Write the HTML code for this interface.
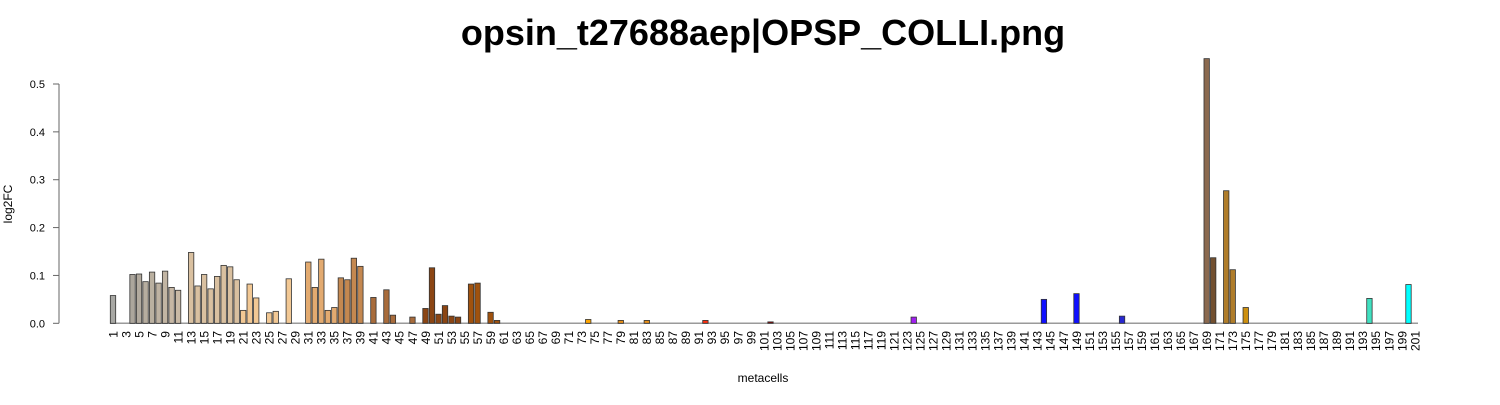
<!DOCTYPE html>
<html><head><meta charset="utf-8"><style>
body{margin:0;background:#fff;}
svg text{font-family:"Liberation Sans",sans-serif;}
</style></head><body>
<svg id="chart" width="1500" height="400" xmlns="http://www.w3.org/2000/svg">
<text x="763" y="45" font-size="36" font-weight="bold" text-anchor="middle">opsin_t27688aep|OPSP_COLLI.png</text>
<text x="763" y="382" font-size="12" text-anchor="middle">metacells</text>
<text transform="translate(12,204) rotate(-90)" font-size="12" text-anchor="middle">log2FC</text>
<g id="yaxis"></g>
<g id="bars"></g>
<g id="xlabels"></g>
</svg>
<script>
const categories = Array.from({length:201},(_,i)=>String(i+1));
const nonZeroIdx = [1,4,5,6,7,8,9,10,11,13,14,15,16,17,18,19,20,21,22,23,25,26,28,31,32,33,34,35,36,37,38,39,41,43,44,47,49,50,51,52,53,54,56,57,59,60,74,79,83,92,102,124,144,149,156,169,170,172,173,175,194,200];
const nonZeroVal = [0.058,0.102,0.103,0.087,0.107,0.084,0.109,0.075,0.069,0.148,0.078,0.102,0.072,0.098,0.121,0.118,0.091,0.027,0.082,0.053,0.022,0.025,0.093,0.128,0.075,0.134,0.027,0.033,0.095,0.091,0.136,0.119,0.054,0.070,0.017,0.013,0.031,0.116,0.019,0.037,0.015,0.013,0.082,0.084,0.023,0.006,0.008,0.006,0.006,0.006,0.003,0.013,0.050,0.062,0.015,0.553,0.137,0.277,0.112,0.033,0.052,0.081];
const yTicks = [0,0.1,0.2,0.3,0.4,0.5];
const yTickLabels = ["0.0","0.1","0.2","0.3","0.4","0.5"];

const values = categories.map(()=>0);
nonZeroIdx.forEach((k,i)=>{values[k-1]=nonZeroVal[i];});

function colorFor(n){
  if(n<=3) return "#a8a8a4";
  if(n<=11) return ["#aca69c","#b2aa9e","#b6ad9f","#bab0a0","#beb2a2","#c2b5a3","#c6b7a4","#c9b9a5"][n-4]||"#c0b4a2";
  if(n<=20) return "#d9c0a0";
  if(n<=29) return "#f2c894";
  if(n<=35) return "#e2aa70";
  if(n<=39) return "#c48850";
  if(n<=47) return "#a86c3c";
  if(n<=55) return "#8b4513";
  if(n<=60) return "#a0520e";
  if(n===74) return "#ffa500";
  if(n<=85) return "#e8901a";
  if(n===92) return "#ff3010";
  if(n===102) return "#8b0000";
  if(n===124) return "#a020f0";
  if(n===144||n===149) return "#1010ff";
  if(n===156) return "#2828d0";
  if(n===169) return "#8b6a4f";
  if(n===170) return "#735030";
  if(n<=173) return "#b07d2a";
  if(n===175) return "#cd9010";
  if(n===194) return "#40e0c0";
  if(n===200) return "#00ffff";
  return "#999";
}

const x0=113, step=6.51, bw=5.4, y0=323.3, scale=478.6;
const xPos = i => x0 + i*step;
const yPos = v => y0 - v*scale;
const NS="http://www.w3.org/2000/svg";
function mk(tag,attrs,parent){const e=document.createElementNS(NS,tag);for(const k in attrs)e.setAttribute(k,attrs[k]);parent.appendChild(e);return e;}

const ya=document.getElementById('yaxis');
const axl=mk('line',{x1:59,x2:59,y1:yPos(0),y2:yPos(0.5),stroke:'#666','stroke-width':1},ya);


yTicks.forEach((t,i)=>{
  const tk=mk('line',{x1:53,x2:59,y1:yPos(t),y2:yPos(t),stroke:'#666'},ya);
  
  
  const tl=mk('text',{x:45,y:yPos(t)+4,'font-size':11,'text-anchor':'end'},ya);
  tl.textContent=yTickLabels[i];
  
  
});

const bg=document.getElementById('bars');
const base=mk('line',{x1:110,x2:1418,y1:y0,y2:y0,stroke:'#9a9a9a','stroke-width':1.5},bg);


values.forEach((v,i)=>{
  if(v<=0) return;
  const cx=xPos(i);
  const r=mk('rect',{x:cx-bw/2,y:yPos(v),width:bw,height:v*scale,fill:colorFor(i+1),stroke:'#333','stroke-width':0.8},bg);
  
  
});

const xl=document.getElementById('xlabels');
categories.forEach((c,i)=>{
  if(i%2!==0) return;
  const cx=xPos(i);
  const t=mk('text',{transform:`translate(${cx+4.3},331) rotate(-90)`,'font-size':12,'text-anchor':'end'},xl);
  t.textContent=c;
  
  
});
</script>
</body></html>
